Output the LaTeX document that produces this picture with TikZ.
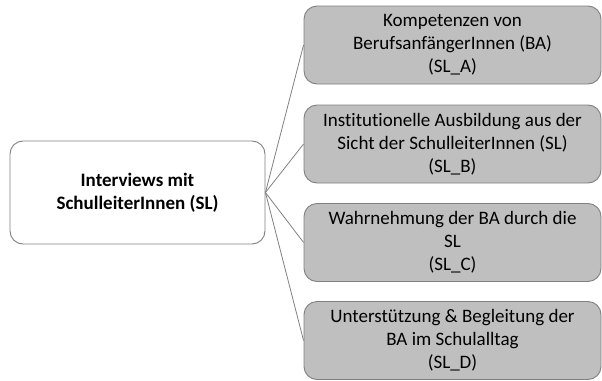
\documentclass[tikz,border=0pt]{standalone}
\usepackage{fontspec}
\setmainfont{Carlito}[RawFeature=-liga]
\begin{document}
\begin{tikzpicture}[x=1pt,y=-1pt,
  box/.style={draw=black!50, line width=0.9pt, rounded corners=13pt, align=center,
    inner sep=0pt, font=\fontsize{19}{23.2}\selectfont},
  topic/.style={box, fill=black!25, minimum width=297pt, minimum height=78pt},
  root/.style={box, fill=white, minimum width=255pt, minimum height=103pt},
  link/.style={draw=black!50, line width=0.8pt}]
\useasboundingbox (0,0) rectangle (602,380);
\node[root] (r) at (137.5,192.5) {\textbf{Interviews mit}\\\textbf{SchulleiterInnen (SL)}};
\node[topic] (a) at (452.5,45) {Kompetenzen von\\BerufsanfängerInnen (BA)\\(SL\_A)};
\node[topic] (b) at (452.5,144) {Institutionelle Ausbildung aus der\\Sicht der SchulleiterInnen (SL)\\(SL\_B)};
\node[topic] (c) at (452.5,242.5) {Wahrnehmung der BA durch die\\SL\\(SL\_C)};
\node[topic] (d) at (452.5,340.5) {Unterstützung \& Begleitung der\\BA im Schulalltag\\(SL\_D)};
\foreach \t in {a,b,c,d} \draw[link] (r.east) -- (\t.west);
\end{tikzpicture}
\end{document}
